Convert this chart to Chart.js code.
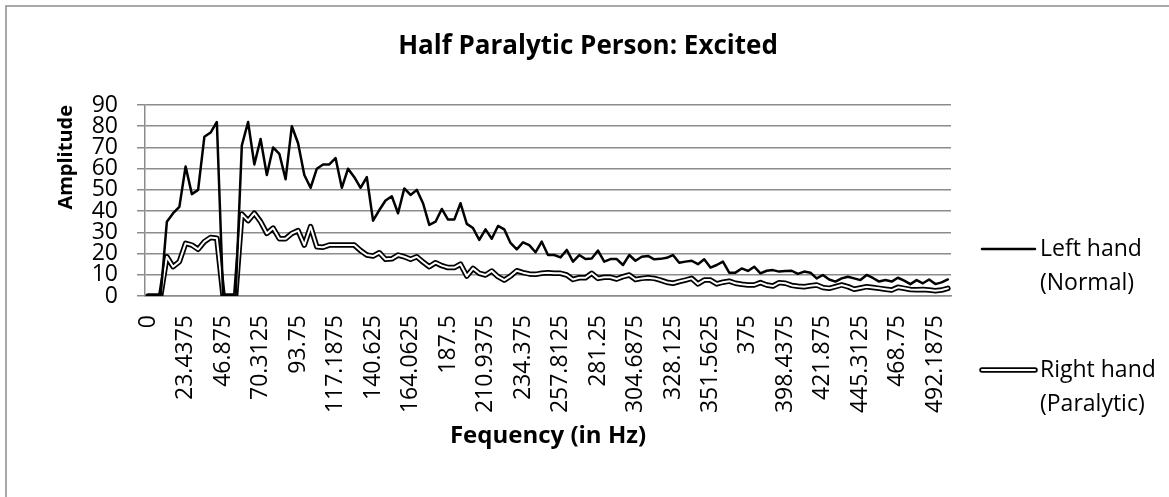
<!DOCTYPE html>
<html>
<head>
<meta charset="utf-8">
<script src="https://cdn.jsdelivr.net/npm/chart.js@4.4.1/dist/chart.umd.min.js"></script>
<style>
  html, body { margin: 0; padding: 0; background: #fff; }
  #wrap { width: 1169px; height: 497px; }
</style>
</head>
<body>
<div id="wrap"><canvas id="fftChart" width="1169" height="497"></canvas></div>
<script>
// FFT bins, 0 .. 500 Hz
const binWidth = 3.90625
const freqs = Array.from({ length: 129 }, (_, i) => String(i * binWidth))

// only every 6th bin gets a label
const labelEvery = 6

const leftHand = [
  0, 0, 0, 35, 39, 42, 61, 48, 50, 75,
  77, 82, 0, 0, 0, 71, 82, 62, 74, 57,
  70, 67, 55, 80, 72, 57, 51, 60, 62, 62,
  65, 51, 60, 56, 51, 56, 35.5, 40.5, 45, 47,
  39, 50.7, 47.6, 50, 43.7, 33.5, 35, 41, 36, 36,
  43.7, 34, 32, 26.4, 31.4, 27, 33, 31.4, 25, 22,
  25.3, 24, 20.6, 25.6, 19.3, 19.3, 18.2, 21.7, 16.2, 19.3,
  17.4, 17.7, 21.4, 16.2, 17.4, 17.4, 14.6, 19.3, 16.6, 18.5,
  18.9, 17.3, 17.5, 18, 19.3, 15.7, 16.2, 16.6, 15, 17.3,
  13.4, 14.6, 16.2, 11, 11, 13, 11.8, 13.8, 10.7, 11.9,
  12.2, 11.5, 11.8, 11.9, 10.4, 11.5, 11, 8.3, 9.9, 7.8,
  6.8, 8.3, 9.1, 8.3, 7.5, 9.9, 8.5, 6.8, 7.5, 6.8,
  8.6, 7.2, 5.6, 7.5, 6, 7.8, 5.6, 6.4, 7.8
]

const rightHand = [
  0, 0, 0, 18.5, 13.8, 16.2, 24.8, 24, 22, 25.6,
  27.6, 27.2, 0, 0, 0, 38.6, 35.5, 39, 35, 29.5,
  32, 27, 27, 29.5, 30.8, 24, 32.7, 23.2, 23, 24,
  24, 24, 24, 24, 21.4, 19.3, 18.8, 20.4, 17.3, 17.5,
  19.3, 18.5, 17.3, 18.5, 16, 13.8, 15.7, 14.3, 13.4, 13.4,
  15, 9.4, 13, 10.7, 9.9, 11.8, 9.1, 7.5, 9.4, 11.9,
  11, 10.4, 10.2, 10.7, 11, 10.7, 10.7, 9.9, 7.8, 8.6,
  8.6, 10.7, 8.3, 8.8, 8.8, 8, 9.1, 9.9, 7.8, 8.3,
  8.6, 8.3, 7.5, 6.5, 6, 6.8, 7.5, 8.3, 5.7, 7.5,
  7.5, 5.7, 6.5, 7, 6, 5.5, 5.2, 5.2, 6.3, 5.2,
  4.7, 6.3, 6, 5, 4.6, 4.4, 4.8, 5.2, 4, 3.6,
  4.4, 5.2, 4.4, 3.2, 3.8, 4.4, 4, 3.6, 3.2, 2.8,
  4.1, 3.6, 3.1, 3, 3.1, 2.8, 2.5, 2.8, 3.6
]

const chartTitle = 'Half Paralytic Person: Excited'
const legendItems = [
  { lines: ['Left hand', '(Normal)'], style: 'single' },
  { lines: ['Right hand', '(Paralytic)'], style: 'double' }
]

const FONT = "'Open Sans', sans-serif"
const GRID = '#8c8c8c'

Chart.defaults.font.family = FONT
Chart.defaults.color = '#000'

// white page, frame, title and the legend drawn by hand
const decor = {
  id: 'decor',
  beforeDraw(chart) {
    const ctx = chart.ctx
    ctx.save()
    ctx.fillStyle = '#fff'
    ctx.fillRect(0, 0, chart.width, chart.height)
    ctx.strokeStyle = GRID
    ctx.lineWidth = 1.5
    ctx.strokeRect(6, 6, chart.width + 50, chart.height + 50)
    ctx.restore()
  },
  afterDraw(chart) {
    const ctx = chart.ctx
    ctx.save()
    ctx.fillStyle = '#000'
    ctx.font = 'bold 26px ' + FONT
    ctx.textAlign = 'center'
    ctx.textBaseline = 'middle'
    ctx.fillText(chartTitle, 588, 47)

    ctx.font = '23px ' + FONT
    ctx.textAlign = 'left'
    const ys = [249, 370]
    legendItems.forEach((item, k) => {
      const y = ys[k]
      ctx.lineCap = 'round'
      if (item.style === 'single') {
        ctx.strokeStyle = '#000'
        ctx.lineWidth = 2.5
        ctx.beginPath(); ctx.moveTo(982, y); ctx.lineTo(1035, y); ctx.stroke()
      } else {
        ctx.strokeStyle = '#000'
        ctx.lineWidth = 5.5
        ctx.beginPath(); ctx.moveTo(982, y); ctx.lineTo(1035, y); ctx.stroke()
        ctx.strokeStyle = '#fff'
        ctx.lineWidth = 2
        ctx.beginPath(); ctx.moveTo(982, y); ctx.lineTo(1035, y); ctx.stroke()
      }
      item.lines.forEach((t, j) => ctx.fillText(t, 1040, y + j * 34))
    })
    ctx.restore()
  }
}

const data = {
  labels: freqs,
  datasets: [
    {
      label: 'Left hand (Normal)',
      data: leftHand,
      borderColor: '#000',
      borderWidth: 2.5,
      order: 1
    },
    {
      label: 'Right hand (Paralytic)',
      data: rightHand,
      borderColor: '#fff',
      borderWidth: 2,
      order: 2
    },
    {
      // black outline under the white line (double line look)
      label: 'Right hand outline',
      data: rightHand,
      borderColor: '#000',
      borderWidth: 5.5,
      order: 3
    }
  ]
}

const config = {
  type: 'line',
  data,
  plugins: [decor],
  options: {
    responsive: false,
    animation: false,
    layout: { padding: { left: 0, top: 105, right: 218, bottom: 0 } },
    elements: {
      point: { radius: 0 },
      line: { tension: 0, borderJoinStyle: 'round', borderCapStyle: 'round' }
    },
    plugins: {
      legend: { display: false },
      title: { display: false },
      tooltip: { enabled: false }
    },
    scales: {
      x: {
        offset: true,
        grid: { display: false, drawTicks: false },
        border: { display: true, color: GRID, width: 1.5 },
        ticks: {
          autoSkip: false,
          minRotation: 90,
          maxRotation: 90,
          padding: 19,
          font: { size: 23 },
          callback: function (v, i) {
            return i % labelEvery === 0 ? this.getLabelForValue(v) : ''
          }
        },
        title: {
          display: true,
          text: 'Fequency (in Hz)',
          font: { size: 24, weight: 'bold' },
          padding: { top: 0, bottom: 46 }
        },
        afterFit: (s) => { s.height = 201 }
      },
      y: {
        min: 0,
        max: 90,
        grid: { color: GRID, lineWidth: 1.5, tickLength: 8, drawTicks: true },
        border: { display: true, color: GRID, width: 1.5 },
        ticks: {
          stepSize: 10,
          autoSkip: false,
          padding: 19,
          font: { size: 23 }
        },
        title: {
          display: true,
          text: 'Amplitude',
          align: 'end',
          font: { size: 20, weight: 'bold' },
          padding: { top: 54, bottom: 0 }
        },
        afterFit: (s) => { s.width = 145 }
      }
    }
  }
}

const fftChart = new Chart(document.getElementById('fftChart'), config)
</script>
</body>
</html>
